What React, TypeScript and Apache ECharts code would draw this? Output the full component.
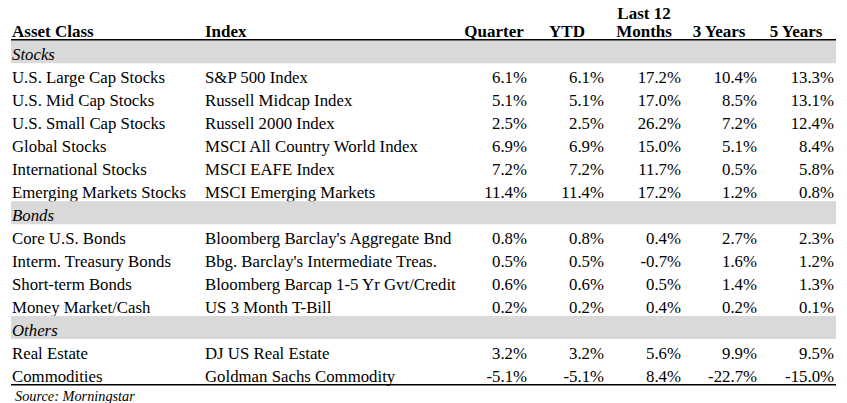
import React, { useEffect, useRef } from 'react';
import * as echarts from 'echarts';

const groupLabels = ['Stocks', 'Bonds', 'Others'];
const groupCounts = [6, 4, 2];
const assetClasses = [
  'U.S. Large Cap Stocks', 'U.S. Mid Cap Stocks', 'U.S. Small Cap Stocks', 'Global Stocks',
  'International Stocks', 'Emerging Markets Stocks',
  'Core U.S. Bonds', 'Interm. Treasury Bonds', 'Short-term Bonds', 'Money Market/Cash',
  'Real Estate', 'Commodities',
];
const indexNames = [
  'S&P 500 Index', 'Russell Midcap Index', 'Russell 2000 Index', 'MSCI All Country World Index',
  'MSCI EAFE Index', 'MSCI Emerging Markets',
  "Bloomberg Barclay's Aggregate Bnd", "Bbg. Barclay's Intermediate Treas.",
  'Bloomberg Barcap 1-5 Yr Gvt/Credit', 'US 3 Month T-Bill',
  'DJ US Real Estate', 'Goldman Sachs Commodity',
];
const quarterReturns = [6.1, 5.1, 2.5, 6.9, 7.2, 11.4, 0.8, 0.5, 0.6, 0.2, 3.2, -5.1];
const ytdReturns = [6.1, 5.1, 2.5, 6.9, 7.2, 11.4, 0.8, 0.5, 0.6, 0.2, 3.2, -5.1];
const last12Returns = [17.2, 17.0, 26.2, 15.0, 11.7, 17.2, 0.4, -0.7, 0.5, 0.4, 5.6, 8.4];
const threeYearReturns = [10.4, 8.5, 7.2, 5.1, 0.5, 1.2, 2.7, 1.6, 1.4, 0.2, 9.9, -22.7];
const fiveYearReturns = [13.3, 13.1, 12.4, 8.4, 5.8, 0.8, 2.3, 1.2, 1.3, 0.1, 9.5, -15.0];
const headerLabels = ['Asset Class', 'Index'];
const returnHeadersTop = ['', '', 'Last 12', '', ''];
const returnHeaders = ['Quarter', 'YTD', 'Months', '3 Years', '5 Years'];
const sourceNote = 'Source: Morningstar';

const W = 847;
const H = 403;
const FONT = "'Liberation Serif', 'Times New Roman', serif";
const BODY_SIZE = 16.8;
const HEAD_SIZE = 17;
const TABLE_LEFT = 11;
const TABLE_RIGHT = 836;
const COL_ASSET = 12;
const COL_INDEX = 205;
const NUM_RIGHT = [527, 604, 681, 757, 834];
const HEAD_CENTER = [494, 567, 644, 719, 796];
const GRID_TOP = 40.3;
const GRID_BOTTOM_Y = 385;

type Row = { kind: 'group'; label: string } | { kind: 'item'; i: number };

function buildRows(): Row[] {
  const rows: Row[] = [];
  let idx = 0;
  groupLabels.forEach((g, gi) => {
    rows.push({ kind: 'group', label: g });
    for (let k = 0; k < groupCounts[gi]; k++) rows.push({ kind: 'item', i: idx++ });
  });
  return rows;
}

const fmt = (v: number) => v.toFixed(1) + '%';

export default function App() {
  const ref = useRef<HTMLDivElement>(null);
  useEffect(() => {
    if (!ref.current) return;
    const chart = echarts.init(ref.current, undefined, { renderer: 'svg', width: W, height: H });
    const rows = buildRows();
    const cols = [quarterReturns, ytdReturns, last12Returns, threeYearReturns, fiveYearReturns];

    const txt = (text: string, x: number, y: number, opts: any = {}) => ({
      type: 'text',
      x,
      y,
      style: {
        text,
        fontFamily: FONT,
        fontSize: opts.fontSize ?? BODY_SIZE,
        fontWeight: opts.fontWeight ?? 'normal',
        fontStyle: opts.fontStyle ?? 'normal',
        fill: '#000',
        align: opts.align ?? 'left',
        textAlign: opts.align ?? 'left',
        verticalAlign: 'middle',
        textVerticalAlign: 'middle',
      },
    });

    const hb = { fontWeight: 'bold', fontSize: HEAD_SIZE };
    const graphic: any[] = [
      txt(headerLabels[0], COL_ASSET, 31, hb),
      txt(headerLabels[1], COL_INDEX, 31, hb),
      ...returnHeaders.map((h, j) => txt(h, HEAD_CENTER[j], 31, { ...hb, align: 'center' })),
      ...returnHeadersTop
        .map((h, j) => (h ? txt(h, HEAD_CENTER[j], 13, { ...hb, align: 'center' }) : null))
        .filter(Boolean),
      { type: 'rect', shape: { x: TABLE_LEFT, y: 39, width: TABLE_RIGHT - TABLE_LEFT, height: 1.5 }, style: { fill: '#000' }, z: 10 },
      { type: 'rect', shape: { x: TABLE_LEFT, y: GRID_BOTTOM_Y - 1, width: TABLE_RIGHT - TABLE_LEFT, height: 1.6 }, style: { fill: '#000' }, z: 10 },
      txt(sourceNote, 15, 395.5, { fontStyle: 'italic', fontSize: 14.3 }),
    ];

    chart.setOption({
      animation: false,
      backgroundColor: '#fff',
      grid: { left: 0, right: 0, top: GRID_TOP, bottom: H - GRID_BOTTOM_Y },
      xAxis: { type: 'value', min: 0, max: W, show: false },
      yAxis: { type: 'category', inverse: true, show: false, data: rows.map((_, k) => String(k)) },
      graphic,
      series: [
        {
          type: 'custom',
          silent: true,
          data: rows.map((_, k) => [0, k]),
          encode: { x: 0, y: 1 },
          renderItem: (params: any, api: any) => {
            const k = api.value(1);
            const row = rows[k];
            const cy = api.coord([0, k])[1];
            const h = api.size([0, 1])[1];
            const ty = cy + 2.5;
            const X = (v: number) => api.coord([v, k])[0];
            if (row.kind === 'group') {
              return {
                type: 'group',
                children: [
                  {
                    type: 'rect',
                    shape: { x: X(TABLE_LEFT), y: cy - h / 2, width: X(TABLE_RIGHT) - X(TABLE_LEFT), height: h },
                    style: { fill: '#d9d9d9' },
                  },
                  txt(row.label, X(COL_ASSET), ty, { fontStyle: 'italic' }),
                ],
              };
            }
            const i = row.i;
            return {
              type: 'group',
              children: [
                txt(assetClasses[i], X(COL_ASSET), ty),
                txt(indexNames[i], X(COL_INDEX), ty),
                ...cols.map((c, j) => txt(fmt(c[i]), X(NUM_RIGHT[j]), ty, { align: 'right' })),
              ],
            };
          },
        },
      ],
    });
    return () => chart.dispose();
  }, []);
  return <div ref={ref} style={{ position: 'fixed', left: 0, top: 0, width: W, height: H, background: '#fff' }} />;
}
